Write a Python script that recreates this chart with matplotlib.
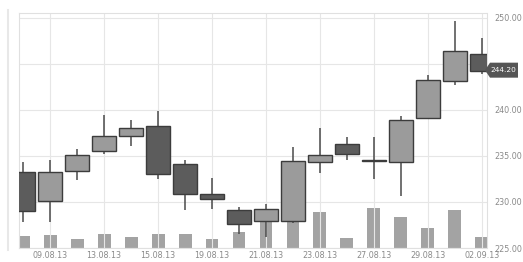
import matplotlib
matplotlib.use('Agg')
import matplotlib.pyplot as plt
from matplotlib.patches import Polygon
from matplotlib.transforms import IdentityTransform
import numpy as np

# daily OHLC + volume
dates = ['08.08.13', '09.08.13', '12.08.13', '13.08.13', '14.08.13', '15.08.13',
         '16.08.13', '19.08.13', '20.08.13', '21.08.13', '22.08.13', '23.08.13',
         '26.08.13', '27.08.13', '28.08.13', '29.08.13', '30.08.13', '02.09.13']
opens = [233.2, 230.1, 233.4, 235.55, 237.15, 238.2, 234.1, 230.9, 229.15,
         227.9, 227.9, 234.35, 236.3, 234.5, 234.35, 239.1, 243.1, 246.05]
closes = [229.0, 233.3, 235.15, 237.15, 238.0, 233.0, 230.9, 230.35, 227.6,
          229.25, 234.5, 235.15, 235.25, 234.4, 238.95, 243.2, 246.4, 244.2]
highs = [234.35, 234.6, 235.8, 239.45, 238.9, 239.9, 234.55, 232.6, 229.45,
         229.8, 236.0, 238.0, 237.0, 237.05, 239.35, 243.8, 249.7, 247.8]
lows = [227.8, 227.8, 232.35, 235.25, 236.1, 232.5, 229.15, 229.25, 226.5,
        226.15, 227.7, 233.15, 234.6, 232.45, 230.6, 239.0, 242.7, 243.9]
volumes = [1.2, 1.3, 0.9, 1.4, 1.1, 1.4, 1.4, 0.9, 1.6,
           2.8, 3.0, 3.6, 1.0, 4.0, 3.1, 2.0, 3.8, 1.1]
last_price = 244.20

x = np.arange(len(dates))
o = np.array(opens)
c = np.array(closes)
up = c >= o

txt_col = '#8a8a8a'
grid_col = '#e6e6e6'
W, H = 523, 262

fig = plt.figure(figsize=(W / 100, H / 100), dpi=100)
ax = fig.add_axes([18.5 / W, 1 - 248 / H, 468 / W, 235.5 / H])

# volume on its own scale, behind the candles
axv = ax.twinx()
axv.set_zorder(0)
ax.set_zorder(1)
ax.patch.set_visible(False)
axv.bar(x, volumes, width=0.48, color='#a3a3a3', zorder=2)
axv.set_ylim(0, 23.55)
axv.set_yticks([])
for s in axv.spines.values():
    s.set_visible(False)

# candles
ax.vlines(x, lows, highs, color='#4a4a4a', linewidth=1.1, zorder=3)
body_bottom = np.minimum(o, c)
body_h = np.maximum(np.abs(c - o), 0.12)
fill = np.where(up, '#9b9b9b', '#5c5c5c')
ax.bar(x, body_h, bottom=body_bottom, width=0.9, color=fill,
       edgecolor='#3c3c3c', linewidth=1.0, zorder=4)

ax.set_xlim(-0.17, 17.17)
ax.set_ylim(225, 250.57)

tick_idx = x[1::2]
ax.set_xticks(tick_idx)
ax.set_xticklabels([dates[i] for i in tick_idx])
yt = np.arange(225, 251, 5)
ax.set_yticks(yt)
ax.yaxis.tick_right()
# 245.00 sits under the price tag in the original
ax.set_yticklabels(['' if v == 245 else f'{v:.2f}' for v in yt])
ax.tick_params(axis='both', length=0, labelsize=5.8, colors=txt_col)
ax.tick_params(axis='y', pad=6)
ax.tick_params(axis='x', pad=2)

ax.grid(True, color=grid_col, linewidth=0.8)
ax.set_axisbelow(True)
for s in ax.spines.values():
    s.set_color('#e0e0e0')
    s.set_linewidth(0.8)

# faint line at the far left
fig.add_artist(plt.Line2D([8 / W, 8 / W], [1 - 250 / H, 1 - 10 / H],
                          color='#e8e8e8', linewidth=1.5))

# last price tag (arrow shape pointing at the axis)
fig.canvas.draw()
py = ax.transData.transform((0, last_price))[1] + 1
hh = 7.5
tag = Polygon([(485, py), (490, py + hh), (518, py + hh), (518, py - hh), (490, py - hh)],
              closed=True, transform=IdentityTransform(), facecolor='#555555',
              edgecolor='none', zorder=10)
fig.add_artist(tag)
fig.text(503.5 / W, py / H, f'{last_price:.2f}', color='white', fontsize=5.3,
         ha='center', va='center', zorder=11)

plt.savefig('out.png', dpi=100)
